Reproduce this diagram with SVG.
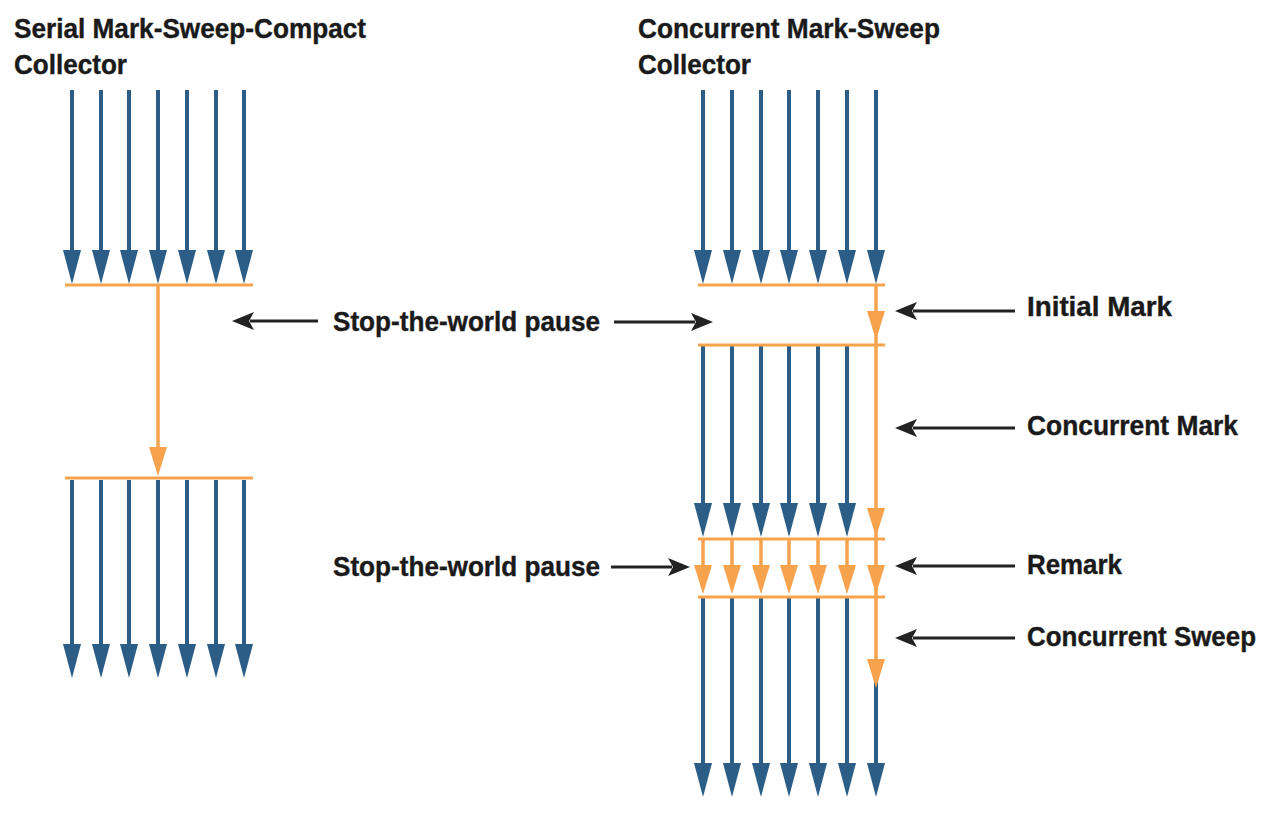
<svg xmlns="http://www.w3.org/2000/svg" xmlns:xlink="http://www.w3.org/1999/xlink" width="1280" height="821" viewBox="0 0 1280 821">
<style>
  .t { font-family: "Liberation Sans", Arial, sans-serif; font-weight: bold; font-size: 28px; fill: #1a1a1a; stroke: #1a1a1a; stroke-width: 0.4; }
  .b { stroke: #2b5d86; stroke-width: 4; fill: none; }
  .o { stroke: #f7a34e; stroke-width: 3; fill: none; }
  .ov { stroke: #f7a34e; stroke-width: 3.5; fill: none; }
  .k { stroke: #222; stroke-width: 3; fill: none; }
</style>
<defs>
  <path id="bh" d="M-9,-34 L9,-34 L0,0 Z" fill="#2b5d86"/>
  <path id="oh" d="M-9,-29 L9,-29 L0,0 Z" fill="#f7a34e"/>
  <path id="kl" d="M0,0 L22,-9 L17,0 L22,9 Z" fill="#222"/>
  <path id="kr" d="M0,0 L-22,-9 L-17,0 L-22,9 Z" fill="#222"/>
</defs>
<rect width="1280" height="821" fill="#fff"/>

<g id="title-serial">
  <text class="t" x="14" y="38" textLength="352" lengthAdjust="spacingAndGlyphs">Serial Mark-Sweep-Compact</text>
  <text class="t" x="14" y="74" textLength="113" lengthAdjust="spacingAndGlyphs">Collector</text>
</g>
<g id="title-cms">
  <text class="t" x="638" y="38" textLength="302" lengthAdjust="spacingAndGlyphs">Concurrent Mark-Sweep</text>
  <text class="t" x="638" y="74" textLength="113" lengthAdjust="spacingAndGlyphs">Collector</text>
</g>

<g id="label-stw1">
  <text class="t" x="333" y="331" textLength="267" lengthAdjust="spacingAndGlyphs">Stop-the-world pause</text>
</g>
<g id="label-stw2">
  <text class="t" x="333" y="576" textLength="267" lengthAdjust="spacingAndGlyphs">Stop-the-world pause</text>
</g>
<g id="label-initial-mark">
  <text class="t" x="1027" y="316" textLength="145" lengthAdjust="spacingAndGlyphs">Initial Mark</text>
</g>
<g id="label-concurrent-mark">
  <text class="t" x="1027" y="435" textLength="211" lengthAdjust="spacingAndGlyphs">Concurrent Mark</text>
</g>
<g id="label-remark">
  <text class="t" x="1027" y="574" textLength="95" lengthAdjust="spacingAndGlyphs">Remark</text>
</g>
<g id="label-concurrent-sweep">
  <text class="t" x="1027" y="646" textLength="229" lengthAdjust="spacingAndGlyphs">Concurrent Sweep</text>
</g>

<g id="serial-collector">
  <g id="serial-threads-top">
    <path class="b" d="M72,90V260 M101,90V260 M129,90V260 M158,90V260 M187,90V260 M216,90V260 M244,90V260"/>
    <use href="#bh" x="72" y="284"/><use href="#bh" x="101" y="284"/><use href="#bh" x="129" y="284"/><use href="#bh" x="158" y="284"/><use href="#bh" x="187" y="284"/><use href="#bh" x="216" y="284"/><use href="#bh" x="244" y="284"/>
  </g>
  <g id="serial-gc">
    <path class="o" d="M65,285H253"/>
    <path class="ov" d="M158,285V450"/>
    <use href="#oh" x="158" y="476"/>
    <path class="o" d="M65,478H253"/>
  </g>
  <g id="serial-threads-bottom">
    <path class="b" d="M72,480V650 M101,480V650 M129,480V650 M158,480V650 M187,480V650 M216,480V650 M244,480V650"/>
    <use href="#bh" x="72" y="678"/><use href="#bh" x="101" y="678"/><use href="#bh" x="129" y="678"/><use href="#bh" x="158" y="678"/><use href="#bh" x="187" y="678"/><use href="#bh" x="216" y="678"/><use href="#bh" x="244" y="678"/>
  </g>
</g>

<g id="cms-collector">
  <g id="cms-threads-top">
    <path class="b" d="M703,90V260 M732,90V260 M761,90V260 M789,90V260 M818,90V260 M847,90V260 M876,90V260"/>
    <use href="#bh" x="703" y="284"/><use href="#bh" x="732" y="284"/><use href="#bh" x="761" y="284"/><use href="#bh" x="789" y="284"/><use href="#bh" x="818" y="284"/><use href="#bh" x="847" y="284"/><use href="#bh" x="876" y="284"/>
  </g>
  <g id="cms-threads-mark">
    <path class="b" d="M703,345V515 M732,345V515 M761,345V515 M789,345V515 M818,345V515 M847,345V515"/>
    <use href="#bh" x="703" y="537"/><use href="#bh" x="732" y="537"/><use href="#bh" x="761" y="537"/><use href="#bh" x="789" y="537"/><use href="#bh" x="818" y="537"/><use href="#bh" x="847" y="537"/>
  </g>
  <g id="cms-threads-bottom">
    <path class="b" d="M703,598V770 M732,598V770 M761,598V770 M789,598V770 M818,598V770 M847,598V770 M876,670V770"/>
    <use href="#bh" x="703" y="797"/><use href="#bh" x="732" y="797"/><use href="#bh" x="761" y="797"/><use href="#bh" x="789" y="797"/><use href="#bh" x="818" y="797"/><use href="#bh" x="847" y="797"/><use href="#bh" x="876" y="797"/>
  </g>
  <g id="cms-gc">
    <path class="o" d="M698,285H885 M698,345H885 M698,539H885 M698,597H885"/>
    <path class="ov" d="M876,285V665"/>
    <use href="#oh" x="876" y="340"/>
    <use href="#oh" x="876" y="537"/>
    <use href="#oh" x="876" y="688"/>
    <path class="ov" d="M703,540V575 M732,540V575 M761,540V575 M789,540V575 M818,540V575 M847,540V575"/>
    <use href="#oh" x="703" y="594"/><use href="#oh" x="732" y="594"/><use href="#oh" x="761" y="594"/><use href="#oh" x="789" y="594"/><use href="#oh" x="818" y="594"/><use href="#oh" x="847" y="594"/><use href="#oh" x="876" y="594"/>
  </g>
</g>

<g id="connectors">
  <path class="k" d="M318,321H250"/><use href="#kl" x="232" y="321"/>
  <path class="k" d="M614,322H695"/><use href="#kr" x="713" y="322"/>
  <path class="k" d="M611,567H672"/><use href="#kr" x="690" y="567"/>
  <path class="k" d="M1015,311H913"/><use href="#kl" x="895" y="311"/>
  <path class="k" d="M1015,428H913"/><use href="#kl" x="895" y="428"/>
  <path class="k" d="M1015,566H913"/><use href="#kl" x="895" y="566"/>
  <path class="k" d="M1015,638H913"/><use href="#kl" x="895" y="638"/>
</g>
</svg>
